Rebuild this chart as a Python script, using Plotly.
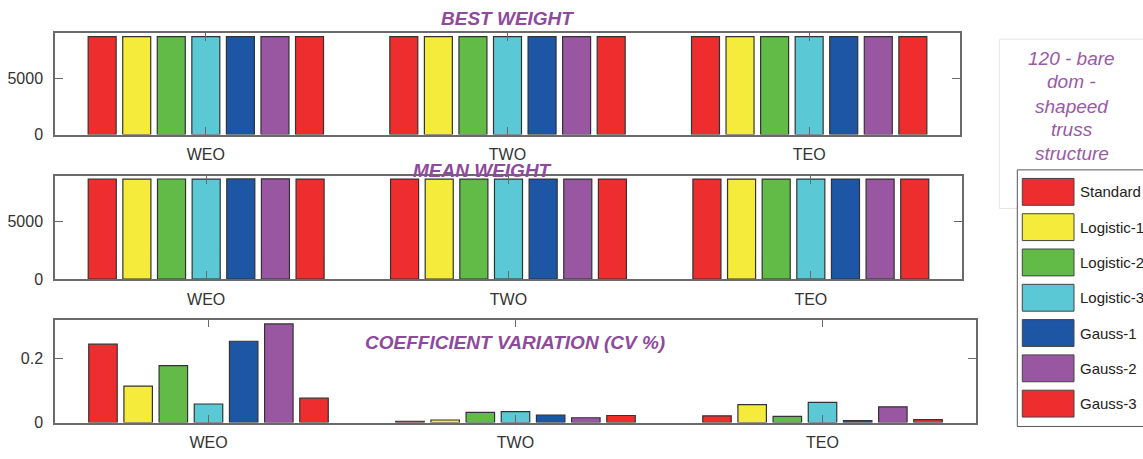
import plotly.graph_objects as go

# ---- data ----
categories = ["WEO", "TWO", "TEO"]
series_names = ["Standard", "Logistic-1", "Logistic-2", "Logistic-3",
                "Gauss-1", "Gauss-2", "Gauss-3"]

# best weight (lb), one row per strategy, columns follow `categories`
best_weight = [
    [8707.3, 8707.6, 8708.1],
    [8707.9, 8708.3, 8707.5],
    [8708.4, 8708.0, 8707.8],
    [8708.1, 8707.7, 8708.5],
    [8707.6, 8708.2, 8707.9],
    [8708.0, 8707.5, 8708.3],
    [8707.8, 8708.1, 8707.6],
]

# mean weight (lb)
mean_weight = [
    [8721.4, 8711.2, 8710.6],
    [8716.8, 8712.0, 8713.9],
    [8719.5, 8714.3, 8711.4],
    [8712.6, 8714.7, 8715.2],
    [8722.3, 8713.1, 8709.3],
    [8734.9, 8711.8, 8713.0],
    [8714.2, 8712.5, 8709.9],
]

# coefficient of variation (CV %)
cv_percent = [
    [0.245, 0.004, 0.021],
    [0.114, 0.008, 0.056],
    [0.178, 0.032, 0.019],
    [0.058, 0.034, 0.063],
    [0.254, 0.023, 0.006],
    [0.308, 0.015, 0.049],
    [0.076, 0.022, 0.009],
]

legend_title_lines = ["120 - bare", "dom -", "shapeed", "truss", "structure"]
panel_titles = ["BEST WEIGHT", "MEAN WEIGHT", "COEFFICIENT VARIATION (CV %)"]

# ---- styling ----
colors = ["#EE2D2F", "#F4EB3A", "#62BB47", "#5BC8D6", "#1D56A5", "#9956A1", "#EE2D2F"]
FONT = "Arial, Liberation Sans, sans-serif"
W, H = 1143, 459
TITLE_COLOR = "#8E4A9C"
AXIS_COLOR = "#6a6a6a"


def px_x(v):
    return v / W


def px_y(v):
    return 1 - v / H


fig = go.Figure()

panels = [
    (best_weight, "x", "y", [0, 9000], [0, 5000], ["0", "5000"]),
    (mean_weight, "x2", "y2", [0, 9000], [0, 5000], ["0", "5000"]),
    (cv_percent, "x3", "y3", [0, 0.3216], [0, 0.2], ["0", "0.2"]),
]

for values, xa, ya, *_ in panels:
    for name, row, col in zip(series_names, values, colors):
        fig.add_trace(go.Bar(
            x=categories, y=row, name=name, xaxis=xa, yaxis=ya,
            marker=dict(color=col, line=dict(color="#333333", width=1.2)),
            showlegend=False,
        ))

# axis domains (pixel edges converted to paper fractions)
domains = [
    ((55, 960), (34, 137.3)),
    ((55, 962), (179.3, 284.7)),
    ((55, 976), (326, 431)),
]

axis_common = dict(
    showline=True, linecolor=AXIS_COLOR, linewidth=1.5, mirror="ticks",
    ticks="inside", tickcolor=AXIS_COLOR, ticklen=8, tickwidth=1,
    showgrid=False, zeroline=False,
    tickfont=dict(family=FONT, size=16, color="#333333"),
)

layout_axes = {}
for i, ((x0, x1), (y0, y1)) in enumerate(domains):
    sfx = "" if i == 0 else str(i + 1)
    _, _, _, yr, tv, tt = panels[i]
    layout_axes["xaxis" + sfx] = dict(
        domain=[px_x(x0), px_x(x1)], anchor="y" + sfx,
        type="category", range=[-0.5, 2.5],
        ticklabelstandoff=4 if i == 0 else 5,
        **axis_common)
    layout_axes["yaxis" + sfx] = dict(
        domain=[px_y(y1), px_y(y0)], anchor="x" + sfx,
        range=yr, tickvals=tv, ticktext=tt, ticklabelstandoff=7,
        **axis_common)

annotations = []
# panel titles
for text, (cx, cy) in zip(panel_titles, [(507.5, 19), (482, 173.5), (515, 349)]):
    annotations.append(dict(
        text="<b><i>%s</i></b>" % text, x=px_x(cx), y=px_y(cy),
        xref="paper", yref="paper", xanchor="center", yanchor="middle",
        showarrow=False, font=dict(family=FONT, size=19, color=TITLE_COLOR)))

# legend heading
for line, cy in zip(legend_title_lines, [59.3, 83.5, 108.3, 132.5, 156.7]):
    annotations.append(dict(
        text="<i>%s</i>" % line, x=px_x(1071.5), y=px_y(cy),
        xref="paper", yref="paper", xanchor="center", yanchor="middle",
        showarrow=False, font=dict(family=FONT, size=19, color="#9B59A8")))

shapes = [
    # heading frame
    dict(type="rect", xref="paper", yref="paper",
         x0=px_x(999.3), x1=1.02, y0=px_y(212.7), y1=px_y(40),
         line=dict(color="#e6e6e6", width=1), fillcolor="rgba(0,0,0,0)"),
    # legend frame
    dict(type="rect", xref="paper", yref="paper",
         x0=px_x(1017.3), x1=1.02, y0=px_y(435), y1=px_y(173.3),
         line=dict(color="#555555", width=1), fillcolor="white"),
]

for i, (name, col) in enumerate(zip(series_names, colors)):
    cy = 195.7 + 36 * i
    shapes.append(dict(
        type="rect", xref="paper", yref="paper",
        x0=px_x(1022.3), x1=px_x(1074), y0=px_y(cy + 13.7), y1=px_y(cy - 13.7),
        line=dict(color="#444444", width=1), fillcolor=col))
    annotations.append(dict(
        text=name, x=px_x(1078), y=px_y(cy),
        xref="paper", yref="paper", xanchor="left", yanchor="middle",
        showarrow=False, font=dict(family=FONT, size=15, color="#222222")))

fig.update_layout(
    width=W, height=H,
    margin=dict(l=0, r=0, t=0, b=0),
    paper_bgcolor="white", plot_bgcolor="white",
    barmode="group", bargap=0.198, bargroupgap=0.19,
    showlegend=False,
    annotations=annotations, shapes=shapes,
    **layout_axes,
)

fig.write_html("out.html")
